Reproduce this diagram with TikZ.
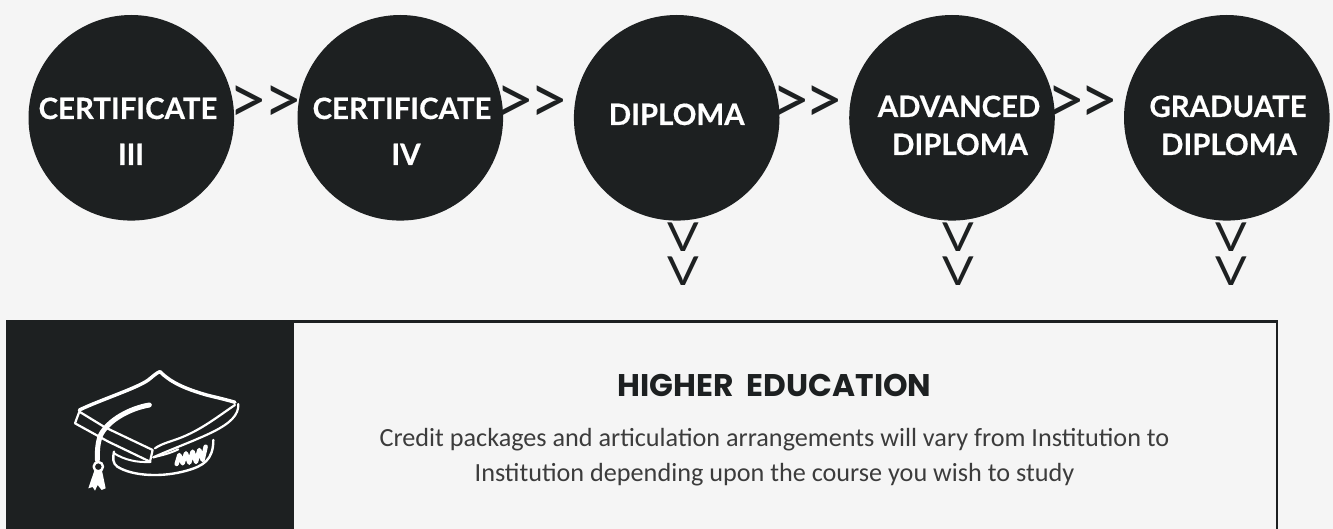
\documentclass[tikz,border=0pt]{standalone}
\usepackage{fontspec}
\setmainfont{Carlito}
\newfontfamily\headfont{Lato Bold}[FakeBold=0.45]
\newfontfamily\titlefont{Poppins}[BoldFont={Poppins Bold}]
\newfontfamily\chevfont{Lato}
\definecolor{ink}{HTML}{1D2021}
\definecolor{paper}{HTML}{F5F5F5}
\definecolor{body}{HTML}{3C3C3C}
\tikzset{
  disc/.style={circle,fill=ink,minimum size=205.6pt,inner sep=0pt},
  lab/.style={text=white,inner sep=0pt,font=\headfont\fontsize{29.4}{29.4}\selectfont,anchor=base},
  chev/.style={text=ink,inner sep=0pt,font=\chevfont\fontsize{68}{68}\selectfont,anchor=center},
  vee/.style={text=ink,inner sep=0pt,font=\chevfont\fontsize{40}{40}\selectfont,anchor=center},
  bodytext/.style={inner sep=0pt,anchor=base,text=body,font=\fontsize{26.2}{26.2}\selectfont},
  capline/.style={draw=white,line cap=round,line join=round},
}
\begin{document}
\begin{tikzpicture}[x=1pt,y=-1pt]
\useasboundingbox (0,0) rectangle (1333,529);
\fill[paper] (0,0) rectangle (1333,529);
% frame and panel
\draw[ink,line width=2.6pt] (6,321.2) -- (1277,321.2) -- (1277,529);
\node[fill=ink,inner sep=0pt,minimum width=288pt,minimum height=209pt,anchor=north west] (panel) at (6,320) {};
% discs
\node[disc] (c1) at (131.3,117.8) {};
\node[disc] (c2) at (400.3,117.8) {};
\node[disc] (c3) at (676.7,117.8) {};
\node[disc] (c4) at (952,117.8) {};
\node[disc] (c5) at (1226.8,117.8) {};
% labels
\node[lab] (t1a) at (128,119) {CERTIFICATE};
\node[lab] (t1b) at (131,165) {III};
\node[lab] (t2a) at (402,119) {CERTIFICATE};
\node[lab] (t2b) at (406,165) {IV};
\node[lab] (t3a) at (676.7,125) {DIPLOMA};
\node[lab] (t4a) at (959,117) {ADVANCED};
\node[lab] (t4b) at (960,155) {DIPLOMA};
\node[lab] (t5a) at (1228,117) {GRADUATE};
\node[lab] (t5b) at (1229,155) {DIPLOMA};
% chevrons
\foreach \n/\x in {a/248.5,b/283,c/515.5,d/549.5,e/791,f/824,g/1066,h/1099}{
  \node[chev] (ch\n) at (\x,105) {>};
}
\foreach \n/\x in {a/683,b/958,c/1231}{
  \node[vee] (va\n) at (\x,237.5) {\scalebox{1.17}[1]{V}};
  \node[vee] (vb\n) at (\x,271.5) {\scalebox{1.17}[1]{V}};
}
% text
\node[inner sep=0pt,anchor=base,text=ink,font=\titlefont\bfseries\fontsize{31.3}{31.3}\selectfont] (title) at (774.5,396) {HIGHER\ \ EDUCATION};
\node[bodytext] (l1) at (774.5,446) {Credit packages and articulation arrangements will vary from Institution to};
\node[bodytext] (l2) at (774.5,481) {Institution depending upon the course you wish to study};
% cap icon
\begin{scope}[shift={(40,340)},x=0.3333pt,y=-0.3333pt]
\draw[capline,line width=3.4pt] (118,210) .. controls (180,180) and (290,145) .. (325,120) .. controls (340,108) and (350,98) .. (360,95);
\draw[capline,line width=3.4pt] (360,95) .. controls (390,125) and (430,145) .. (500,165) .. controls (540,175) and (570,182) .. (585,187);
\draw[capline,line width=2.2pt] (585,195) .. controls (540,225) and (490,265) .. (430,290) .. controls (400,303) and (365,310) .. (345,325);
\draw[capline,line width=2.2pt] (595,192) .. controls (597,225) and (570,250) .. (520,275) .. controls (470,300) and (400,325) .. (340,352);
\draw[capline,line width=2.2pt] (118,215) -- (105,250) -- (205,305) -- (330,365) -- (338,330) -- (195,262) -- cycle;
\draw[capline,line width=5pt] (328,195) .. controls (270,205) and (205,240) .. (182,285) .. controls (172,310) and (172,335) .. (172,360);
\draw[capline,line width=2.4pt] (175,380) circle (14);
\fill[white] (163,392) -- (145,445) -- (158,441) -- (165,452) -- (173,435) -- (185,450) -- (197,445) -- (186,392) -- cycle;
\draw[capline,line width=2.4pt] (222,335) .. controls (218,355) and (218,370) .. (232,380) .. controls (280,410) and (370,412) .. (440,392) .. controls (490,378) and (520,360) .. (520,300);
\draw[capline,line width=2pt] (222,340) .. controls (255,360) and (290,368) .. (332,366);
\draw[capline,line width=2pt] (340,352) .. controls (370,345) and (390,340) .. (415,328);
\draw[capline,line width=4.4pt] (410,372) -- (418,345) -- (428,370) -- (438,340) -- (448,368) -- (458,335) -- (468,366) -- (478,330) -- (488,360) -- (497,320);
\end{scope}
\end{tikzpicture}
\end{document}
